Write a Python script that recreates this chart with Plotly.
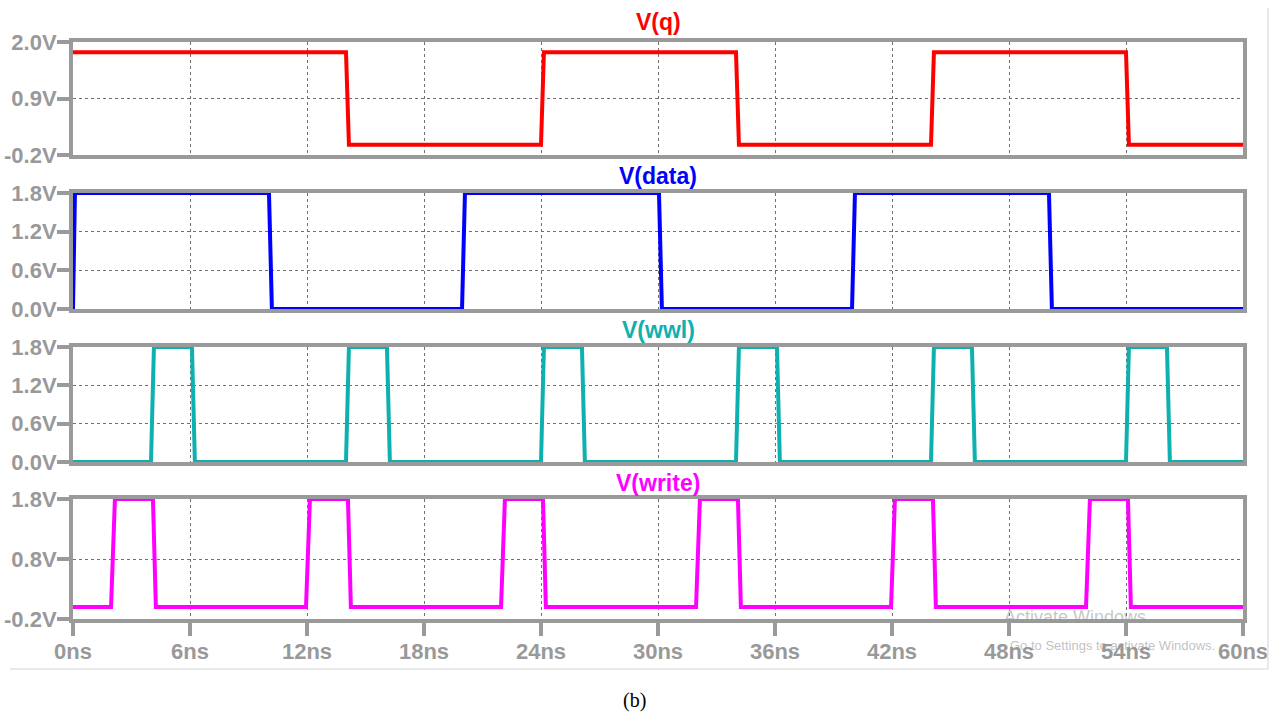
import plotly.graph_objects as go

# ---------------- data (time in ns, voltage in V) ----------------
time_q = [0, 14.0, 14.15, 24.0, 24.15, 34.0, 34.15, 44.0, 44.15, 54.0, 54.15, 60]
v_q = [1.8, 1.8, 0.0, 0.0, 1.8, 1.8, 0.0, 0.0, 1.8, 1.8, 0.0, 0.0]

time_data = [0, 0.1, 10.05, 10.2, 19.95, 20.1, 30.05, 30.2, 39.95, 40.1, 50.05, 50.2, 60]
v_data = [0.0, 1.8, 1.8, 0.0, 0.0, 1.8, 1.8, 0.0, 0.0, 1.8, 1.8, 0.0, 0.0]

time_wwl = [0, 4.0, 4.15, 6.1, 6.25, 14.0, 14.15, 16.1, 16.25, 24.0, 24.15, 26.1, 26.25,
            34.0, 34.15, 36.1, 36.25, 44.0, 44.15, 46.1, 46.25, 54.0, 54.15, 56.1, 56.25, 60]
v_wwl = [0.0, 0.0, 1.8, 1.8, 0.0, 0.0, 1.8, 1.8, 0.0, 0.0, 1.8, 1.8, 0.0,
         0.0, 1.8, 1.8, 0.0, 0.0, 1.8, 1.8, 0.0, 0.0, 1.8, 1.8, 0.0, 0.0]

time_write = [0, 1.95, 2.15, 4.1, 4.25, 11.95, 12.15, 14.1, 14.25, 21.95, 22.15, 24.1, 24.25,
              31.95, 32.15, 34.1, 34.25, 41.95, 42.15, 44.1, 44.25, 51.95, 52.15, 54.1, 54.25, 60]
v_write = [0.0, 0.0, 1.8, 1.8, 0.0, 0.0, 1.8, 1.8, 0.0, 0.0, 1.8, 1.8, 0.0,
           0.0, 1.8, 1.8, 0.0, 0.0, 1.8, 1.8, 0.0, 0.0, 1.8, 1.8, 0.0, 0.0]

x_ticks = [0, 6, 12, 18, 24, 30, 36, 42, 48, 54, 60]
x_ticktext = ["0ns", "6ns", "12ns", "18ns", "24ns", "30ns", "36ns", "42ns", "48ns", "54ns", "60ns"]

y1_ticks = [-0.2, 0.9, 2.0]
y1_text = ["-0.2V", "0.9V", "2.0V"]
y2_ticks = [0.0, 0.6, 1.2, 1.8]
y2_text = ["0.0V", "0.6V", "1.2V", "1.8V"]
y3_ticks = [0.0, 0.6, 1.2, 1.8]
y3_text = ["0.0V", "0.6V", "1.2V", "1.8V"]
y4_ticks = [-0.2, 0.8, 1.8]
y4_text = ["-0.2V", "0.8V", "1.8V"]

titles = ["V(q)", "V(data)", "V(wwl)", "V(write)"]
colors = ["#ff0000", "#0000ff", "#0fb0b0", "#ff00ff"]

# ---------------- layout geometry ----------------
W, H = 1280, 716
x0px, x1px = 73, 1243
panels_px = [(42, 155), (193, 309), (347, 462), (499, 619)]
title_y_px = [22, 176, 330, 483]

def py(p):
    return 1 - p / H

AX = "#9a9a9a"
GRID = "#707070"
SANS = "Liberation Sans, Arial, sans-serif"
tickfont = dict(family=SANS, size=22, color="#999999", weight="bold")

fig = go.Figure()
series = [(time_q, v_q), (time_data, v_data), (time_wwl, v_wwl), (time_write, v_write)]
for i, (t, v) in enumerate(series):
    sfx = "" if i == 0 else str(i + 1)
    fig.add_trace(go.Scatter(x=t, y=v, mode="lines", line=dict(color=colors[i], width=4),
                             xaxis="x" + sfx, yaxis="y" + sfx, showlegend=False,
                             hoverinfo="skip"))

yspecs = [(y1_ticks, y1_text, [-0.2, 2.0]), (y2_ticks, y2_text, [0.0, 1.8]),
          (y3_ticks, y3_text, [0.0, 1.8]), (y4_ticks, y4_text, [-0.2, 1.8])]

layout = {}
for i in range(4):
    sfx = "" if i == 0 else str(i + 1)
    top, bot = panels_px[i]
    last = (i == 3)
    layout["xaxis" + sfx] = dict(
        domain=[x0px / W, x1px / W], range=[0, 60], anchor="y" + sfx, automargin=False,
        tickvals=x_ticks, ticktext=x_ticktext, showticklabels=last,
        ticks="outside" if last else "", ticklen=13, tickwidth=4, tickcolor=AX,
        ticklabelstandoff=-3,
        tickfont=tickfont, showline=True, linecolor=AX, linewidth=4, mirror=True,
        showgrid=True, gridcolor=GRID, gridwidth=1, griddash="3px,3px", zeroline=False,
        fixedrange=True)
    tv, tt, rg = yspecs[i]
    layout["yaxis" + sfx] = dict(
        domain=[py(bot), py(top)], range=rg, anchor="x" + sfx, automargin=False,
        tickvals=tv, ticktext=tt, ticks="outside", ticklen=12, tickwidth=4, tickcolor=AX,
        ticklabelstandoff=-4,
        tickfont=tickfont, showline=True, linecolor=AX, linewidth=4, mirror=True,
        showgrid=True, gridcolor=GRID, gridwidth=1, griddash="3px,3px", zeroline=False,
        fixedrange=True)

annotations = []
for i in range(4):
    annotations.append(dict(text=titles[i], x=0.5 * (x0px + x1px) / W, y=py(title_y_px[i]),
                            xref="paper", yref="paper", showarrow=False,
                            xanchor="center", yanchor="middle",
                            font=dict(family=SANS, size=23, color=colors[i], weight="bold")))
annotations.append(dict(text="(b)", x=634 / W, y=py(700), xref="paper", yref="paper",
                        showarrow=False, xanchor="center", yanchor="middle",
                        font=dict(family="Liberation Serif, Times New Roman, serif", size=20,
                                  color="#000000")))
annotations.append(dict(text="Activate Windows", x=1075 / W, y=py(617), xref="paper", yref="paper",
                        showarrow=False, xanchor="center", yanchor="middle",
                        font=dict(family=SANS, size=18, color="rgba(150,150,150,0.55)")))
annotations.append(dict(text="Go to Settings to activate Windows.", x=1112 / W, y=py(645),
                        xref="paper", yref="paper", showarrow=False, xanchor="center",
                        yanchor="middle",
                        font=dict(family=SANS, size=13, color="rgba(150,150,150,0.6)")))

shapes = [
    dict(type="line", xref="paper", yref="paper", x0=10 / W, x1=1268 / W, y0=py(669), y1=py(669),
         line=dict(color="#e2e2e2", width=1.5)),
    dict(type="line", xref="paper", yref="paper", x0=1268 / W, x1=1268 / W, y0=py(8), y1=py(669),
         line=dict(color="#e2e2e2", width=1.5)),
]

fig.update_layout(width=W, height=H, margin=dict(l=0, r=0, t=0, b=0, autoexpand=False),
                  paper_bgcolor="white", plot_bgcolor="white",
                  annotations=annotations, shapes=shapes, **layout)

fig.write_html("out.html", config={"displayModeBar": False})
